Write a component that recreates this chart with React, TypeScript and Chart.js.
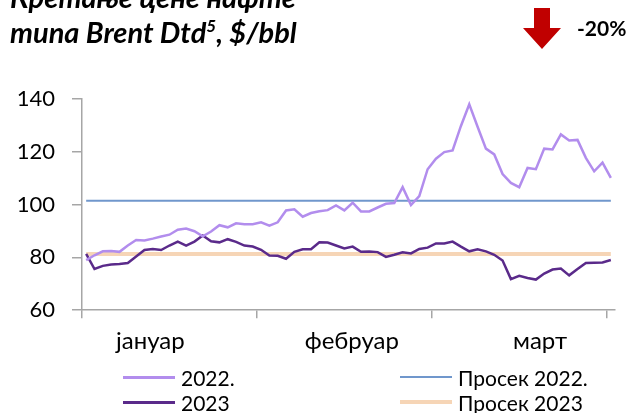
import React, { useEffect, useRef } from "react";
import { Chart, registerables } from "chart.js";

Chart.register(...registerables);

const seriesNames = ["2022.", "2023", "Просек 2022.", "Просек 2023"];
const values2022 = [
  79.0, 80.8, 82.3, 82.4, 82.1, 84.5, 86.6, 86.4, 87.1, 87.9, 88.6, 90.5, 90.9, 89.9, 88.0, 89.8,
  92.2, 91.4, 92.9, 92.6, 92.6, 93.3, 92.0, 93.3, 97.8, 98.2, 95.4, 96.8, 97.5, 97.9, 99.7, 97.8,
  100.7, 97.4, 97.4, 98.9, 100.3, 100.6, 106.6, 99.8, 103.2, 113.4, 117.4, 119.9, 120.5, 129.8, 138.0, 129.5,
  121.2, 119.0, 111.6, 108.2, 106.6, 113.9, 113.4, 121.2, 120.9, 126.6, 124.3, 124.5, 117.7, 112.6, 115.9, 110.1,
];
const values2023 = [
  81.3, 75.6, 76.8, 77.3, 77.5, 77.9, 80.3, 82.8, 83.2, 82.8, 84.5, 86.0, 84.5, 86.0, 88.3, 86.1,
  85.7, 86.9, 85.9, 84.5, 84.1, 82.9, 80.7, 80.6, 79.5, 82.1, 83.1, 83.1, 85.7, 85.6, 84.5, 83.4,
  84.1, 82.1, 82.2, 82.0, 80.2, 81.0, 81.9, 81.5, 83.2, 83.7, 85.3, 85.3, 86.0, 84.1, 82.3, 83.1,
  82.3, 81.0, 78.8, 71.8, 73.0, 72.2, 71.6, 73.9, 75.4, 75.8, 73.2, 75.6, 77.9, 78.0, 78.1, 79.0,
];
const average2022 = 101.5;
const average2023 = 81.3;
const monthLabels = ["јануар", "фебруар", "март"];
const monthLabelPos = [7.7, 31.9, 54.5];
const monthTickPos = [-0.5, 20.5, 41.5, 62.5];
const yTicks = [60, 80, 100, 120, 140];

const colors = ["#b28ded", "#5a2a8a", "#7097cc", "#f6d5b6"];
const widths = [2.5, 2.5, 2, 4];

const FONT = "Lato, 'Open Sans', 'Noto Sans', sans-serif";

export default function App() {
  const ref = useRef<HTMLCanvasElement>(null);
  useEffect(() => {
    if (!ref.current) return;
    const toPts = (arr: number[]) => arr.map((v, i) => ({ x: i, y: v }));
    const constPts = (v: number) => values2022.map((_, i) => ({ x: i, y: v }));
    const datasets = [
      toPts(values2022),
      toPts(values2023),
      constPts(average2022),
      constPts(average2023),
    ].map((d, k) => ({
      label: seriesNames[k],
      data: d,
      borderColor: colors[k],
      backgroundColor: colors[k],
      borderWidth: widths[k],
      pointRadius: 0,
      tension: 0,
      fill: false,
    }));
    const chart = new Chart(ref.current, {
      type: "line",
      data: { datasets },
      options: {
        animation: false,
        responsive: false,
        layout: { padding: { left: 0, top: 99, right: 14, bottom: 48 } },
        plugins: { legend: { display: false }, tooltip: { enabled: false }, title: { display: false } },
        scales: {
          x: {
            type: "linear",
            min: -0.5,
            max: 63.5,
            position: "bottom",
            afterBuildTicks: (s: any) => {
              s.ticks = monthTickPos.map((v) => ({ value: v }));
            },
            ticks: { display: false },
            grid: { display: true, drawOnChartArea: false, drawTicks: true, tickLength: 8, color: "#a6a6a6", lineWidth: 1.5 },
            border: { display: true, color: "#a6a6a6", width: 1.5 },
          },
          x2: {
            type: "linear",
            min: -0.5,
            max: 63.5,
            position: "bottom",
            afterBuildTicks: (s: any) => {
              s.ticks = monthLabelPos.map((v) => ({ value: v }));
            },
            ticks: {
              display: true,
              padding: 9,
              color: "#000",
              font: { family: FONT, size: 24 },
              maxRotation: 0,
              autoSkip: false,
              callback: (_v: any, i: number) => monthLabels[i],
            },
            grid: { display: false, drawTicks: false },
            border: { display: false },
          },
          y: {
            min: 60,
            max: 140,
            afterBuildTicks: (s: any) => {
              s.ticks = yTicks.map((v) => ({ value: v }));
            },
            afterFit: (s: any) => {
              s.width = 82;
            },
            ticks: { color: "#000", padding: 17, font: { family: FONT, size: 22 } },
            grid: { display: true, drawOnChartArea: false, drawTicks: true, tickLength: 10, color: "#a6a6a6", lineWidth: 1.5 },
            border: { display: true, color: "#a6a6a6", width: 1.5 },
          },
        },
      },
    });
    return () => chart.destroy();
  }, []);

  const legendItem = (k: number, left: number, top: number) => (
    <div
      key={k}
      style={{ position: "absolute", left, top, height: 26, display: "flex", alignItems: "center", whiteSpace: "nowrap" }}
    >
      <div style={{ width: 52, height: widths[k] + 0.5, background: colors[k], marginRight: 6 }} />
      <span style={{ fontFamily: FONT, fontSize: 21, color: "#000" }}>{seriesNames[k]}</span>
    </div>
  );

  const titleStyle: React.CSSProperties = {
    position: "absolute",
    left: 10,
    fontFamily: FONT,
    fontWeight: 700,
    fontStyle: "italic",
    fontSize: 29,
    lineHeight: "29px",
    color: "#000",
    whiteSpace: "nowrap",
  };

  return (
    <div style={{ position: "absolute", left: 0, top: 0, width: 629, height: 413, overflow: "hidden", background: "#fff" }}>
      <canvas ref={ref} width={629} height={413} style={{ position: "absolute", left: 0, top: 0 }} />
      <div style={{ ...titleStyle, top: -18.5 }}>Кретање цене нафте</div>
      <div style={{ ...titleStyle, top: 17 }}>
        типа Brent Dtd<sup style={{ fontSize: 17, lineHeight: 0 }}>5</sup>, $/bbl
      </div>
      <svg style={{ position: "absolute", left: 523, top: 8 }} width={38} height={41} viewBox="0 0 38 41">
        <polygon points="11,0 27,0 27,20 38,20 19,41 0,20 11,20" fill="#c00000" />
      </svg>
      <div
        style={{
          position: "absolute",
          left: 577,
          top: 15,
          fontFamily: FONT,
          fontWeight: 700,
          fontSize: 21,
          color: "#000",
          whiteSpace: "nowrap",
        }}
      >
        -20%
      </div>
      {legendItem(0, 123, 364)}
      {legendItem(2, 400, 364)}
      {legendItem(1, 123, 389)}
      {legendItem(3, 400, 389)}
    </div>
  );
}
